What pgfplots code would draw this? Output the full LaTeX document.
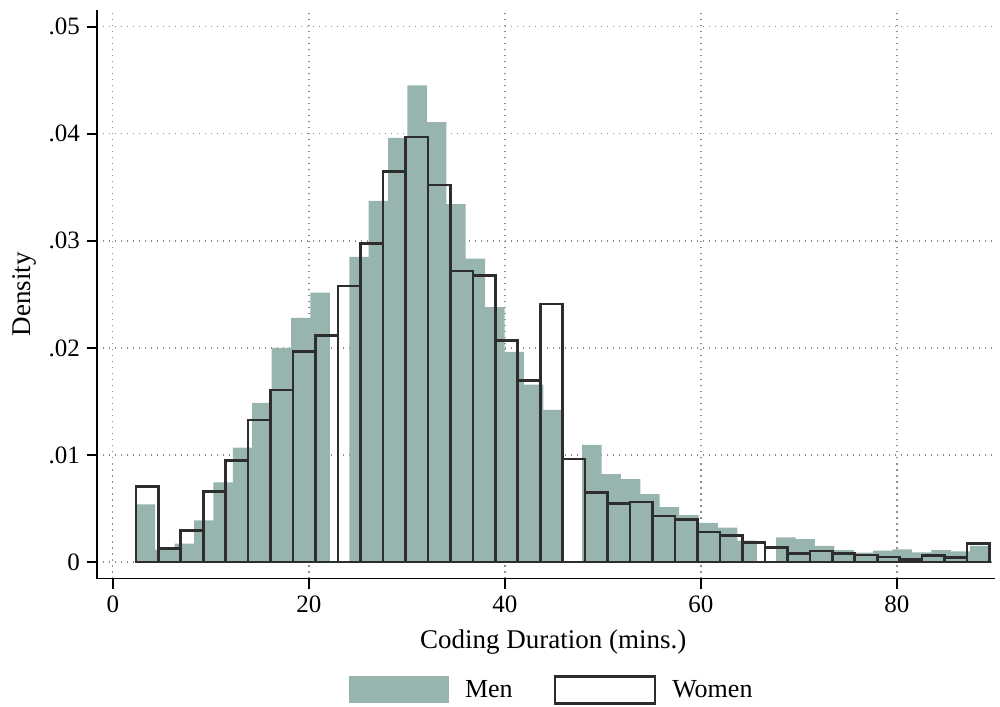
\documentclass[border=0pt]{standalone}
\usepackage{fontspec}
\setmainfont{Liberation Serif}
\usepackage{pgfplots}
\pgfplotsset{compat=1.18}
\definecolor{men}{RGB}{151,181,174}
\definecolor{wline}{RGB}{45,45,45}
\begin{document}
\begin{tikzpicture}
\useasboundingbox (-48.5pt,-63.75pt) rectangle (451.5pt,289.25pt);
\begin{axis}[
  at={(0pt,0pt)}, anchor=south west,
  width=449pt, height=284.25pt, scale only axis,
  xmin=-1.61, xmax=90.0, ymin=-0.00154, ymax=0.05156,
  axis x line*=bottom, axis y line*=left,
  axis line style={line width=0.9pt, black, -},
  xtick={0,20,40,60,80},
  xticklabels={0,20,40,60,80},
  ytick={0,0.01,0.02,0.03,0.04,0.05},
  yticklabels={0,.01,.02,.03,.04,.05},
  scaled y ticks=false,
  tick align=outside,
  major tick length=5pt,
  tick style={black, line width=0.9pt},
  ticklabel style={font=\fontsize{12.5}{14}\selectfont},
  grid=major,
  grid style={black!45, line width=0.7pt, dash pattern=on 0.7pt off 2.3pt},
  xlabel={Coding Duration (mins.)},
  xlabel style={font=\fontsize{13.5}{16}\selectfont, at={(axis description cs:0.508,-0.1228)}, anchor=base},
  ylabel={Density},
  ylabel style={font=\fontsize{13.5}{16}\selectfont, at={(axis description cs:-0.0735,0.5)}, anchor=base},
  legend style={at={(axis description cs:0.5075,-0.1961)}, anchor=center, draw=none,
    legend columns=2, font=\fontsize{13}{15}\selectfont,
    /tikz/every even column/.append style={column sep=18.5pt}},
]
\addplot[ybar interval, fill=men, draw=none,
  legend image code/.code={\fill[men] (0pt,-6.75pt) rectangle (50pt,6.75pt); \path (56pt,0pt);}]
table[row sep=\\] {
x y \\
2.35 0.00538 \\
4.3295 0.00116 \\
6.309 0.00172 \\
8.2885 0.0039 \\
10.268 0.00744 \\
12.2475 0.01069 \\
14.227 0.01487 \\
16.2065 0.0200 \\
18.186 0.0228 \\
20.1655 0.02515 \\
22.145 0 \\
24.1245 0.02849 \\
26.104 0.03374 \\
28.0835 0.03962 \\
30.063 0.04452 \\
32.0425 0.04109 \\
34.022 0.03343 \\
36.0015 0.02834 \\
37.981 0.0238 \\
39.9605 0.01962 \\
41.94 0.01656 \\
43.9195 0.01422 \\
45.899 0 \\
47.8785 0.01094 \\
49.858 0.00822 \\
51.8375 0.00775 \\
53.817 0.00634 \\
55.7965 0.00513 \\
57.776 0.00438 \\
59.7555 0.00366 \\
61.735 0.00322 \\
63.7145 0.00200 \\
65.694 0 \\
67.6735 0.00229 \\
69.653 0.00213 \\
71.6325 0.00150 \\
73.612 0.00110 \\
75.5915 0.00088 \\
77.571 0.00107 \\
79.5505 0.00119 \\
81.53 0.00091 \\
83.5095 0.00110 \\
85.489 0.00100 \\
87.4685 0.00150 \\
89.448 0 \\
};
\addlegendentry{Men}
\addplot[ybar interval, fill=none, draw=wline, line width=1.3pt,
  legend image code/.code={\draw[wline, line width=1.3pt] (0pt,-6.75pt) rectangle (50pt,6.75pt); \path (56pt,0pt);}]
table[row sep=\\] {
x y \\
2.35 0.00703 \\
4.642 0.00125 \\
6.934 0.00297 \\
9.226 0.00656 \\
11.518 0.00950 \\
13.81 0.01328 \\
16.102 0.01606 \\
18.394 0.01968 \\
20.686 0.02118 \\
22.978 0.02577 \\
25.27 0.02975 \\
27.562 0.03650 \\
29.854 0.03968 \\
32.146 0.03521 \\
34.438 0.02718 \\
36.73 0.02678 \\
39.022 0.02068 \\
41.314 0.01697 \\
43.606 0.02410 \\
45.898 0.00963 \\
48.19 0.00650 \\
50.482 0.00544 \\
52.774 0.00560 \\
55.066 0.00428 \\
57.358 0.00397 \\
59.65 0.00281 \\
61.942 0.00250 \\
64.234 0.00185 \\
66.526 0.00135 \\
68.818 0.00081 \\
71.11 0.00103 \\
73.402 0.00081 \\
75.694 0.00066 \\
77.986 0.00047 \\
80.278 0.00025 \\
82.57 0.00060 \\
84.862 0.00041 \\
87.154 0.00175 \\
89.446 0 \\
};
\addlegendentry{Women}
\end{axis}
\end{tikzpicture}
\end{document}
